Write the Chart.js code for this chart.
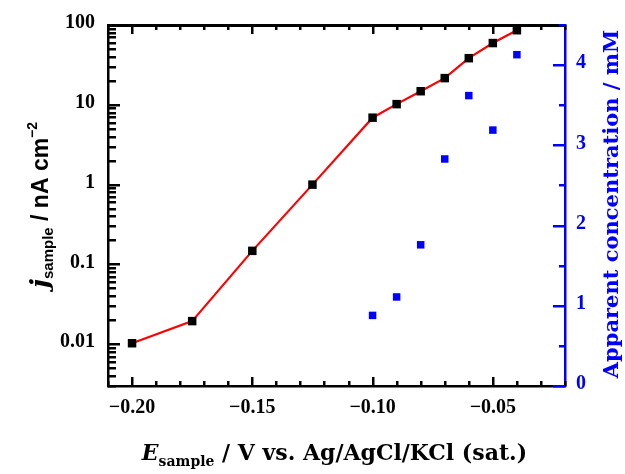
<!DOCTYPE html>
<html>
<head>
<meta charset="utf-8">
<script src="https://cdn.jsdelivr.net/npm/chart.js@4"></script>
<style>
  html, body { margin: 0; padding: 0; background: #fff; }
  #wrap { width: 625px; height: 474px; }
</style>
</head>
<body>
<div id="wrap"><canvas id="chart" width="625" height="474"></canvas></div>
<script>
// Potentials (V vs. Ag/AgCl/KCl sat.) and current densities (nA cm^-2)
const potentials = [-0.20, -0.175, -0.15, -0.125, -0.10, -0.09, -0.08, -0.07, -0.06, -0.05, -0.04];
const currentDensity = [0.0103, 0.0195, 0.148, 1.0, 6.9, 10.2, 14.8, 21.6, 38.4, 59.4, 86];

// Apparent concentration (mM), right axis
const concPotentials = [-0.10, -0.09, -0.08, -0.07, -0.06, -0.05, -0.04];
const apparentConc = [0.88, 1.11, 1.76, 2.83, 3.62, 3.19, 4.13];

// Tick labels
const xTicks = [-0.20, -0.15, -0.10, -0.05];
const yTicks = [0.01, 0.1, 1, 10, 100];
const y2Ticks = [0, 1, 2, 3, 4];

const BLUE = '#0000ff';
const tickFont = { family: "'Liberation Serif', serif", size: 20, weight: 'bold' };
const titleSerif = "'DejaVu Serif', serif";
const titleSans = "'Liberation Sans', Arial, sans-serif";

// draws a run of text pieces (sub/superscripts via dy), centred on (cx, cy)
function drawRich(ctx, parts, cx, cy, angle, color) {
  ctx.save();
  ctx.translate(cx, cy);
  ctx.rotate(angle);
  ctx.fillStyle = color;
  ctx.textBaseline = 'alphabetic';
  ctx.textAlign = 'left';
  let total = 0;
  parts.forEach(p => { ctx.font = p.font; p.w = ctx.measureText(p.t).width; total += p.w; });
  let x = -total / 2;
  parts.forEach(p => {
    ctx.font = p.font;
    ctx.fillText(p.t, x, p.dy || 0);
    x += p.w;
  });
  ctx.restore();
}

// inward tick marks, top border and axis titles
const framePlugin = {
  id: 'frame',
  afterDraw(chart) {
    const ctx = chart.ctx;
    const a = chart.chartArea;
    const xs = chart.scales.x, ys = chart.scales.y, y2 = chart.scales.y1;
    const L = Math.round(a.left), R = Math.round(a.right);
    const T = Math.round(a.top), B = Math.round(a.bottom);

    ctx.save();
    ctx.fillStyle = '#000';
    // top border
    ctx.fillRect(L - 1, T - 1, R - L + 1, 3);

    // x ticks every 0.01, longer every 0.05
    for (let i = -21; i <= -2; i++) {
      const px = Math.round(xs.getPixelForValue(i / 100));
      const len = i % 5 === 0 ? 9 : 5;
      ctx.fillRect(px - 1, B - len, 2.5, len);
      ctx.fillRect(px - 1, T, 2.5, len);
    }

    // log ticks on the left axis
    for (let d = -3; d <= 2; d++) {
      for (let m = 1; m <= 9; m++) {
        const v = m * Math.pow(10, d);
        if (v < 0.0029 || v > 101) continue;
        const py = Math.round(ys.getPixelForValue(v));
        const len = m === 1 ? 12 : 8;
        ctx.fillRect(L, py - 1, len, 2.5);
      }
    }

    // right axis ticks in blue, every 0.5
    ctx.fillStyle = BLUE;
    for (let i = 0; i <= 9; i++) {
      const py = Math.round(y2.getPixelForValue(i / 2));
      const len = i % 2 === 0 ? 12 : 6;
      ctx.fillRect(R - len, py - 1, len, 2.5);
    }
    ctx.restore();

    // axis titles
    drawRich(ctx, [
      { t: 'E', font: `italic bold 22px ${titleSerif}` },
      { t: 'sample', font: `bold 14px ${titleSerif}`, dy: 6 },
      { t: ' / V vs. Ag/AgCl/KCl (sat.)', font: `bold 22px ${titleSerif}` }
    ], (a.left + a.right) / 2 - 2, 460, 0, '#000');

    drawRich(ctx, [
      { t: 'j', font: `italic bold 25px ${titleSerif}` },
      { t: 'sample', font: `bold 15px ${titleSans}`, dy: 5 },
      { t: ' / nA cm', font: `bold 23px ${titleSans}` },
      { t: '\u22122', font: `bold 14px ${titleSans}`, dy: -11 }
    ], 48, 205, -Math.PI / 2, '#000');

    drawRich(ctx, [
      { t: 'Apparent concentration / mM', font: `bold 21px ${titleSerif}` }
    ], 618, 204, -Math.PI / 2, BLUE);
  }
};

const chart = new Chart(document.getElementById('chart'), {
  type: 'scatter',
  data: {
    datasets: [{
      label: 'j sample',
      data: potentials.map((x, i) => ({ x, y: currentDensity[i] })),
      yAxisID: 'y',
      showLine: true,
      borderColor: '#ff0000',
      borderWidth: 2.2,
      tension: 0,
      pointStyle: 'rect',
      pointRadius: 6,
      pointBackgroundColor: '#000',
      pointBorderColor: '#000',
      pointBorderWidth: 0
    }, {
      label: 'Apparent concentration',
      data: concPotentials.map((x, i) => ({ x, y: apparentConc[i] })),
      yAxisID: 'y1',
      showLine: false,
      pointStyle: 'rect',
      pointRadius: 5.3,
      pointBackgroundColor: BLUE,
      pointBorderColor: BLUE,
      pointBorderWidth: 0
    }]
  },
  options: {
    responsive: false,
    animation: false,
    layout: { padding: { top: 22, left: 0, right: 0, bottom: 0 } },
    plugins: {
      legend: { display: false },
      tooltip: { enabled: false }
    },
    scales: {
      x: {
        type: 'linear',
        position: 'bottom',
        min: -0.21,
        max: -0.02,
        grid: { display: false, drawTicks: false },
        border: { color: '#000', width: 2.5 },
        ticks: {
          color: '#000',
          font: tickFont,
          padding: 10,
          maxRotation: 0,
          callback: v => '\u2212' + Math.abs(v).toFixed(2)
        },
        afterBuildTicks: s => { s.ticks = xTicks.map(value => ({ value })); },
        afterFit: s => { s.height = 88; }
      },
      y: {
        type: 'logarithmic',
        position: 'left',
        min: 0.003,
        max: 100,
        grid: { display: false, drawTicks: false },
        border: { color: '#000', width: 2.5 },
        ticks: {
          color: '#000',
          font: tickFont,
          padding: 13,
          labelOffset: -2,
          callback: v => String(v)
        },
        afterBuildTicks: s => { s.ticks = yTicks.map(value => ({ value })); },
        afterFit: s => { s.width = 108; }
      },
      y1: {
        type: 'linear',
        position: 'right',
        min: 0,
        max: 4.5,
        grid: { display: false, drawTicks: false },
        border: { color: BLUE, width: 2.5 },
        ticks: {
          color: BLUE,
          font: tickFont,
          padding: 11,
          labelOffset: -2,
          callback: v => String(v)
        },
        afterBuildTicks: s => { s.ticks = y2Ticks.map(value => ({ value })); },
        afterFit: s => { s.width = 60; }
      }
    }
  },
  plugins: [framePlugin]
});
</script>
</body>
</html>
